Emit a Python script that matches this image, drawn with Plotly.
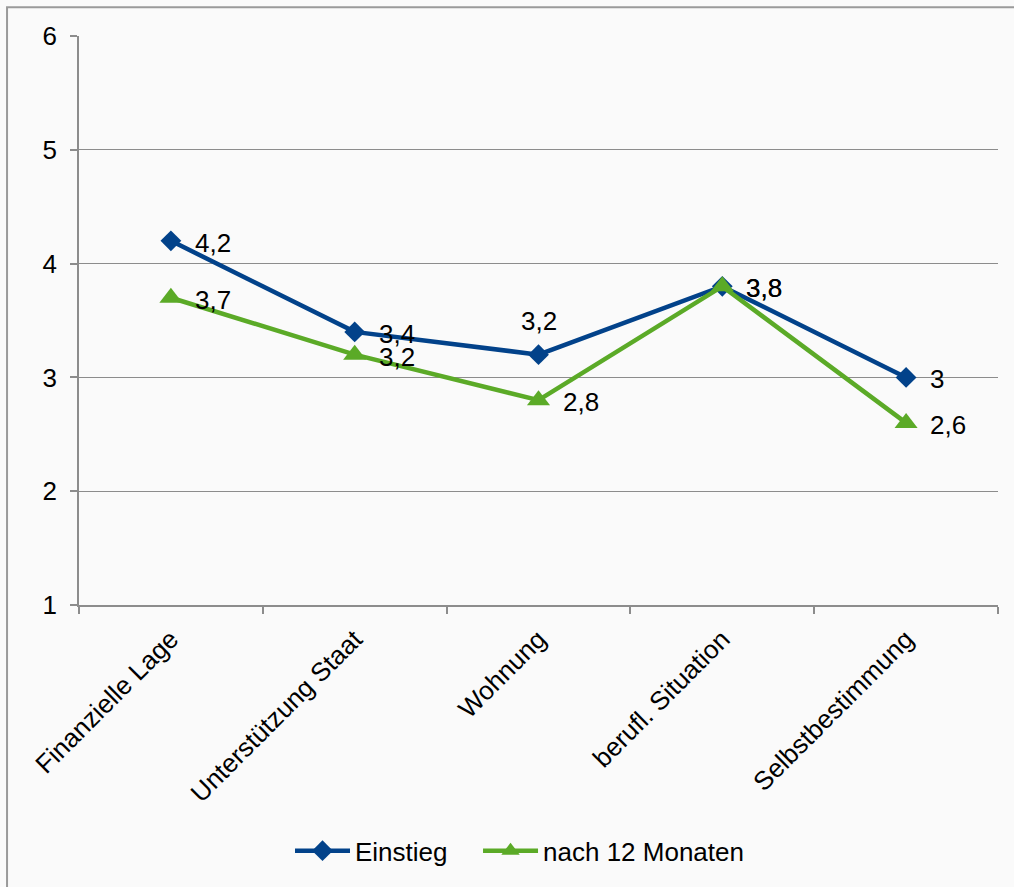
import plotly.graph_objects as go

categories = ["Finanzielle Lage", "Unterstützung Staat", "Wohnung",
              "berufl. Situation", "Selbstbestimmung"]
einstieg = [4.2, 3.4, 3.2, 3.8, 3.0]
nach_12_monaten = [3.7, 3.2, 2.8, 3.8, 2.6]
y_ticks = [1, 2, 3, 4, 5, 6]

BLUE = "#02428A"
GREEN = "#5BAA27"
GRID = "#8C8C8C"
FONT = "Liberation Sans, Arial, sans-serif"
FS = 26


def fmt(v):
    s = f"{v:.1f}".replace(".", ",")
    return s[:-2] if s.endswith(",0") else s


fig = go.Figure()
fig.add_trace(go.Scatter(
    x=categories, y=einstieg, name="Einstieg", mode="lines+markers",
    line=dict(color=BLUE, width=4.5),
    marker=dict(symbol="diamond", size=16, color=BLUE),
    legend="legend",
))
fig.add_trace(go.Scatter(
    x=categories, y=nach_12_monaten, name="nach 12 Monaten", mode="lines+markers",
    line=dict(color=GREEN, width=4.5),
    marker=dict(symbol="triangle-up", size=20, color=GREEN),
    legend="legend2",
))

# value labels: right of the point, except the Einstieg value at "Wohnung" sits above
for c, v in zip(categories, nach_12_monaten):
    fig.add_annotation(x=c, y=v, text=fmt(v), showarrow=False,
                       xanchor="left", yanchor="middle", xshift=22, yshift=-2,
                       font=dict(family=FONT, size=FS, color="black"))
for c, v in zip(categories, einstieg):
    if c == "Wohnung":
        fig.add_annotation(x=c, y=v, text=fmt(v), showarrow=False,
                           xanchor="center", yanchor="bottom", yshift=17,
                           font=dict(family=FONT, size=FS, color="black"))
    else:
        fig.add_annotation(x=c, y=v, text=fmt(v), showarrow=False,
                           xanchor="left", yanchor="middle", xshift=22, yshift=-2,
                           font=dict(family=FONT, size=FS, color="black"))

# outer chart frame (top and left edges visible)
fig.add_shape(type="rect", xref="paper", yref="paper",
              x0=-0.0783, y0=-0.7, x1=1.2, y1=1.0507,
              line=dict(color="#9A9A9A", width=2), layer="below")

legend_style = dict(orientation="h", xanchor="left", y=-0.432, yanchor="middle",
                    font=dict(family=FONT, size=FS, color="black"),
                    itemwidth=55, bgcolor="rgba(0,0,0,0)")

fig.update_layout(
    width=1014, height=887,
    margin=dict(l=79, r=16, t=36, b=279),
    paper_bgcolor="#FAFAFA", plot_bgcolor="#FAFAFA",
    font=dict(family=FONT, size=FS, color="black"),
    showlegend=True,
    legend=dict(x=0.2296, **legend_style),
    legend2=dict(x=0.4342, **legend_style),
)
fig.update_xaxes(
    type="category", range=[-0.5, 4.5],
    showgrid=False, showline=True, linecolor=GRID, linewidth=1.5,
    ticks="outside", tickson="boundaries", ticklen=7, tickcolor=GRID,
    tickwidth=1.5, tickangle=-45, tickfont=dict(family=FONT, size=FS),
    ticklabelstandoff=7,
)
fig.update_yaxes(
    range=[1, 6], tickvals=y_ticks, ticktext=[str(t) for t in y_ticks],
    showgrid=True, gridcolor=GRID, gridwidth=1.3,
    showline=True, linecolor=GRID, linewidth=1.5,
    ticks="outside", ticklen=7, tickcolor=GRID, tickwidth=1.5,
    ticklabelstandoff=8, zeroline=False, tickfont=dict(family=FONT, size=FS),
)

fig.write_html("out.html")
